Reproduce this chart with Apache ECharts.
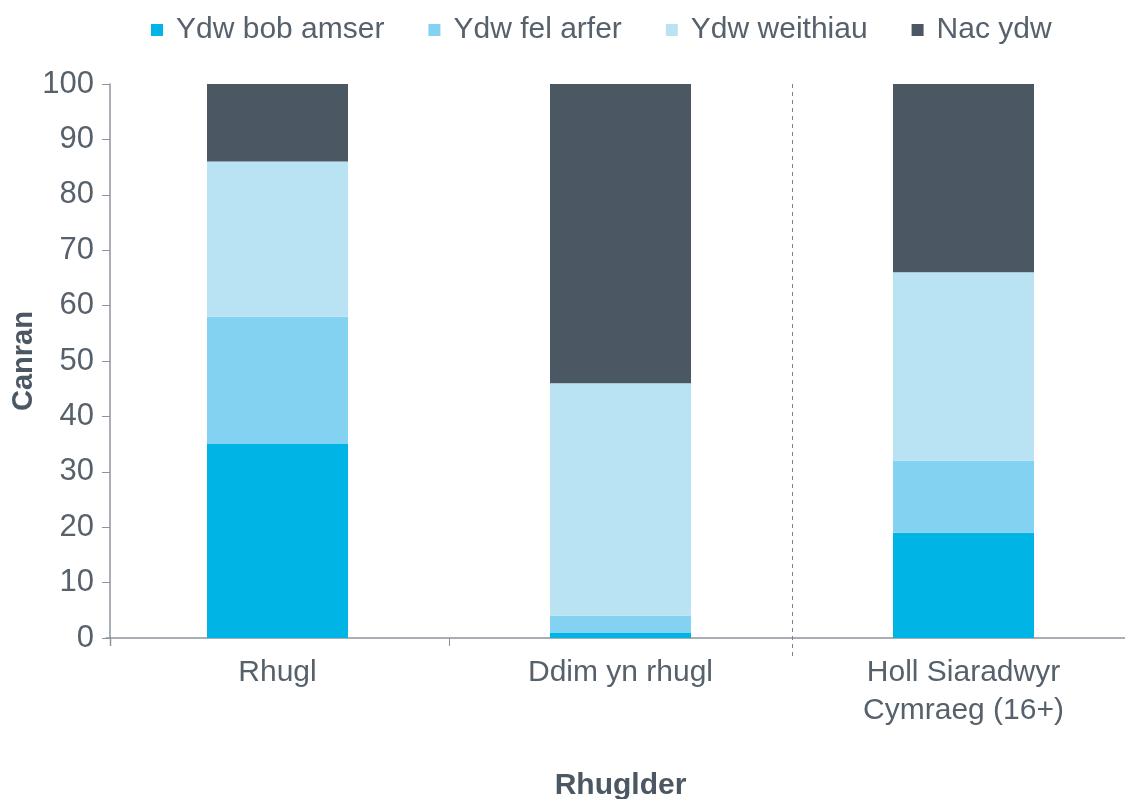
<!DOCTYPE html>
<html>
<head>
<meta charset="utf-8">
<script src="https://cdn.jsdelivr.net/npm/echarts@6/dist/echarts.min.js"></script>
<style>
  html, body { margin: 0; padding: 0; background: #ffffff; }
  #chart { width: 1125px; height: 799px; }
</style>
</head>
<body>
<div id="chart"></div>
<script>
// Categories on the x axis (fluency groups)
const categories = ['Rhugl', 'Ddim yn rhugl', 'Holl Siaradwyr\nCymraeg (16+)'];

// Percentages for each answer, one value per category
const ydwBobAmser = [35, 1, 19];
const ydwFelArfer = [23, 3, 13];
const ydwWeithiau = [28, 42, 34];
const nacYdw = [14, 54, 34];

const seriesNames = ['Ydw bob amser', 'Ydw fel arfer', 'Ydw weithiau', 'Nac ydw'];
const seriesColors = ['#00b4e5', '#84d2f1', '#b9e3f2', '#4b5763'];
const seriesValues = [ydwBobAmser, ydwFelArfer, ydwWeithiau, nacYdw];

const textColor = '#56616c';
const axisColor = '#8c949c';
const fontFamily = '"Liberation Sans", Arial, sans-serif';
const yAxisShift = 4;

const chart = echarts.init(document.getElementById('chart'));

const option = {
  backgroundColor: '#ffffff',
  animation: false,
  textStyle: { fontFamily: fontFamily },
  legend: {
    top: 10,
    left: 146,
    itemWidth: 12,
    itemHeight: 12,
    itemGap: 44,
    icon: 'rect',
    data: seriesNames,
    textStyle: { fontSize: 30, color: textColor, fontFamily: fontFamily, padding: [0, 0, 0, 8] }
  },
  grid: {
    left: 106, right: -10, top: 84, bottom: 161,
    containLabel: false,
    outerBoundsMode: 'none'
  },
  xAxis: {
    type: 'category',
    data: categories,
    name: 'Rhuglder',
    nameLocation: 'middle',
    nameGap: 133,
    nameMoveOverlap: false,
    nameTextStyle: { fontSize: 30, fontWeight: 'bold', color: '#4b5763', fontFamily: fontFamily },
    axisLine: { lineStyle: { color: axisColor, width: 1.5 } },
    axisTick: {
      show: true,
      interval: 0,
      length: 8,
      lineStyle: { color: axisColor, width: 1 }
    },
    axisLabel: { fontSize: 30, color: textColor, margin: 16, lineHeight: 38, fontFamily: fontFamily },
    splitLine: { show: false }
  },
  yAxis: {
    type: 'value',
    min: 0,
    max: 100,
    interval: 10,
    offset: -yAxisShift,
    name: 'Canran',
    nameLocation: 'middle',
    nameGap: 72,
    nameMoveOverlap: false,
    nameTextStyle: { fontSize: 29, fontWeight: 'bold', color: '#4b5763', fontFamily: fontFamily },
    axisLine: { show: true, lineStyle: { color: axisColor, width: 1.5 } },
    axisTick: { show: true, length: 8, lineStyle: { color: axisColor, width: 1 } },
    axisLabel: { fontSize: 31, color: textColor, margin: 16, fontFamily: fontFamily },
    splitLine: { show: false }
  },
  series: seriesNames.map(function (name, i) {
    return {
      name: name,
      type: 'bar',
      stack: 'total',
      barWidth: 141,
      itemStyle: { color: seriesColors[i] },
      emphasis: { disabled: true },
      data: seriesValues[i]
    };
  })
};

chart.setOption(option);

// Positions taken from the axes: band edges, the top and the zero line
const c0 = chart.convertToPixel({ xAxisIndex: 0 }, categories[0]);
const c1 = chart.convertToPixel({ xAxisIndex: 0 }, categories[1]);
const c2 = chart.convertToPixel({ xAxisIndex: 0 }, categories[2]);
const yTop = chart.convertToPixel({ yAxisIndex: 0 }, 100);
const yZero = chart.convertToPixel({ yAxisIndex: 0 }, 0);
const leftEdge = Math.round(c0 - (c1 - c0) / 2) + 0.5;
const yAxisX = leftEdge + yAxisShift;
const sepX = Math.round((c1 + c2) / 2) + 0.5;

chart.setOption({
  graphic: [
    // hide the category ticks that the y axis and the separator replace
    { type: 'line', shape: { x1: leftEdge, y1: yZero + 1, x2: leftEdge, y2: yZero + 10 },
      style: { stroke: '#ffffff', lineWidth: 3 }, z: 9 },
    { type: 'line', shape: { x1: sepX, y1: yZero + 1, x2: sepX, y2: yZero + 10 },
      style: { stroke: '#ffffff', lineWidth: 3 }, z: 9 },
    // y axis line carried a little below the zero line
    { type: 'line', shape: { x1: yAxisX, y1: yZero, x2: yAxisX, y2: yZero + 8 },
      style: { stroke: axisColor, lineWidth: 1.5 }, z: 10 },
    // dashed separator before the all-speakers bar
    { type: 'line', shape: { x1: sepX, y1: yTop, x2: sepX, y2: yZero + 18 },
      style: { stroke: '#7a828a', lineWidth: 1, lineDash: [4, 4] }, z: 10 }
  ]
});
</script>
</body>
</html>
